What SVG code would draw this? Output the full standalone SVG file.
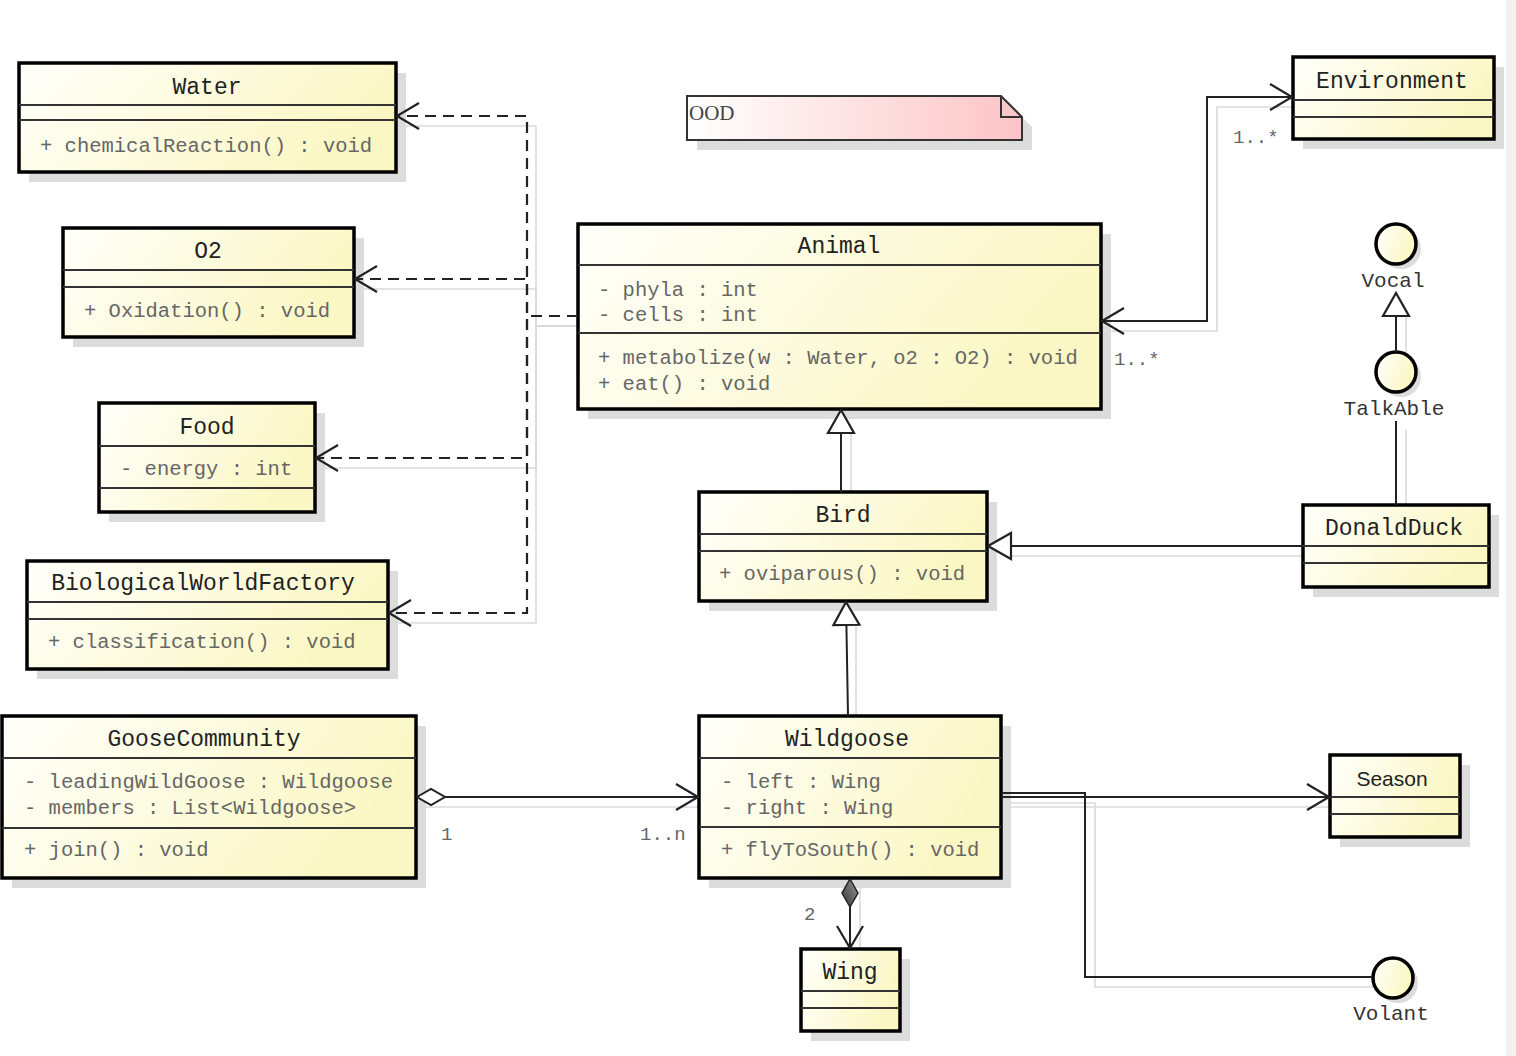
<svg xmlns="http://www.w3.org/2000/svg" width="1516" height="1056" viewBox="0 0 1516 1056">
<defs>
<linearGradient id="cls" x1="0" y1="0" x2="1" y2="0.3">
<stop offset="0" stop-color="#fffffb"/><stop offset="1" stop-color="#fbf7c4"/>
</linearGradient>
<linearGradient id="note" x1="0" y1="0" x2="1" y2="0">
<stop offset="0" stop-color="#ffffff"/><stop offset="1" stop-color="#fdc4c6"/>
</linearGradient>
<linearGradient id="dia" x1="0" y1="0" x2="1" y2="1">
<stop offset="0" stop-color="#999"/><stop offset="1" stop-color="#333"/>
</linearGradient>
<marker id="open" viewBox="-26 -15 30 30" refX="0" refY="0" markerWidth="30" markerHeight="30" markerUnits="userSpaceOnUse" orient="auto-start-reverse" overflow="visible">
<path d="M-22,-13 L0,0 L-22,13" fill="none" stroke="#222" stroke-width="2.2"/>
</marker>
<marker id="tri" viewBox="-26 -15 30 30" refX="0" refY="0" markerWidth="30" markerHeight="30" markerUnits="userSpaceOnUse" orient="auto" overflow="visible">
<path d="M0,0 L-23,-13 L-23,13 Z" fill="#fff" stroke="#222" stroke-width="2.2"/>
</marker>
<marker id="hdia" viewBox="-2 -10 32 20" refX="0" refY="0" markerWidth="32" markerHeight="20" markerUnits="userSpaceOnUse" orient="auto" overflow="visible">
<path d="M0,0 L14,-8 L28,0 L14,8 Z" fill="#fff" stroke="#222" stroke-width="2"/>
</marker>
<marker id="fdia" viewBox="-2 -10 32 20" refX="0" refY="0" markerWidth="32" markerHeight="20" markerUnits="userSpaceOnUse" orient="auto" overflow="visible">
<path d="M0,0 L14,-8 L28,0 L14,8 Z" fill="url(#dia)" stroke="#222" stroke-width="1.5"/>
</marker>
</defs>
<style>
.box{fill:url(#cls);stroke:#000;stroke-width:3.5}
.sh{fill:#dcdcdc}
.sep{stroke:#333;stroke-width:2}
.t{font-family:"Liberation Mono","DejaVu Sans Mono",monospace;font-size:23px;fill:#222;text-anchor:middle}
.m{font-family:"Liberation Mono","DejaVu Sans Mono",monospace;font-size:20.5px;fill:#666}
.lbl{font-family:"Liberation Mono","DejaVu Sans Mono",monospace;font-size:21px;fill:#333;text-anchor:middle}
.mult{font-family:"Liberation Mono","DejaVu Sans Mono",monospace;font-size:19px;fill:#666}
.c{fill:none;stroke:#222;stroke-width:2}
.d{fill:none;stroke:#222;stroke-width:2.2;stroke-dasharray:11 7}
.cs{fill:none;stroke:#dadada;stroke-width:1.6}
.iface{fill:url(#cls);stroke:#000;stroke-width:3.5}
</style>
<rect x="1506" y="0" width="10" height="1056" fill="#f1f1f1"/>

<g id="connector-shadows">
<path class="cs" d="M588,326 H536 V126 H406"/>
<path class="cs" d="M588,326 H536 V289 H364"/>
<path class="cs" d="M588,326 H536 V468 H325"/>
<path class="cs" d="M588,326 H536 V623 H398"/>
<path class="cs" d="M1111,331 H1217 V107 H1303"/>
<path class="cs" d="M851,492 V433"/>
<path class="cs" d="M1313,556 H1012"/>
<path class="cs" d="M856,716 V625"/>
<path class="cs" d="M1406,361 V316"/>
<path class="cs" d="M1406,505 V430"/>
<path class="cs" d="M426,807 H709"/>
<path class="cs" d="M860,888 V959"/>
<path class="cs" d="M1011,807 H1340"/>
<path class="cs" d="M1011,803 H1095 V987 H1383"/>
</g>

<g id="Water">
<rect class="sh" x="29" y="73" width="377" height="109"/>
<rect class="box" x="19" y="63" width="377" height="109"/>
<line class="sep" x1="19" y1="105" x2="396" y2="105"/>
<line class="sep" x1="19" y1="120" x2="396" y2="120"/>
<text class="t" x="207" y="94">Water</text>
<text class="m" x="40" y="152">+ chemicalReaction() : void</text>
</g>

<g id="O2">
<rect class="sh" x="73" y="238" width="291" height="109"/>
<rect class="box" x="63" y="228" width="291" height="109"/>
<line class="sep" x1="63" y1="270" x2="354" y2="270"/>
<line class="sep" x1="63" y1="287" x2="354" y2="287"/>
<text class="t" x="208" y="258">O2</text>
<text class="m" x="84" y="317">+ Oxidation() : void</text>
</g>

<g id="Food">
<rect class="sh" x="109" y="413" width="216" height="109"/>
<rect class="box" x="99" y="403" width="216" height="109"/>
<line class="sep" x1="99" y1="446" x2="315" y2="446"/>
<line class="sep" x1="99" y1="488" x2="315" y2="488"/>
<text class="t" x="207" y="434">Food</text>
<text class="m" x="120" y="475">- energy : int</text>
</g>

<g id="BiologicalWorldFactory">
<rect class="sh" x="37" y="571" width="361" height="108"/>
<rect class="box" x="27" y="561" width="361" height="108"/>
<line class="sep" x1="27" y1="602" x2="388" y2="602"/>
<line class="sep" x1="27" y1="619" x2="388" y2="619"/>
<text class="t" x="203" y="590">BiologicalWorldFactory</text>
<text class="m" x="48" y="648">+ classification() : void</text>
</g>

<g id="OOD">
<path class="sh" d="M697,106 H1011 L1032,127 V150 H697 Z"/>
<path d="M687,96 H1001 L1022,117 V140 H687 Z" fill="url(#note)" stroke="#333" stroke-width="2"/>
<path d="M1001,96 V117 H1022" fill="none" stroke="#333" stroke-width="2"/>
<text x="689" y="120" font-family="Liberation Serif, serif" font-size="21" fill="#444">OOD</text>
</g>

<g id="Animal">
<rect class="sh" x="588" y="234" width="523" height="185"/>
<rect class="box" x="578" y="224" width="523" height="185"/>
<line class="sep" x1="578" y1="265" x2="1101" y2="265"/>
<line class="sep" x1="578" y1="333" x2="1101" y2="333"/>
<text class="t" x="839" y="253">Animal</text>
<text class="m" x="598" y="296">- phyla : int</text>
<text class="m" x="598" y="321">- cells : int</text>
<text class="m" x="598" y="364">+ metabolize(w : Water, o2 : O2) : void</text>
<text class="m" x="598" y="390">+ eat() : void</text>
</g>

<g id="Environment">
<rect class="sh" x="1303" y="67" width="201" height="82"/>
<rect class="box" x="1293" y="57" width="201" height="82"/>
<line class="sep" x1="1293" y1="100" x2="1494" y2="100"/>
<line class="sep" x1="1293" y1="117" x2="1494" y2="117"/>
<text class="t" x="1392" y="88">Environment</text>
</g>

<g id="Vocal">
<circle cx="1401" cy="249" r="20" fill="#dcdcdc"/>
<circle class="iface" cx="1396" cy="244" r="20"/>
<text class="lbl" x="1393" y="287">Vocal</text>
</g>

<g id="TalkAble">
<circle cx="1401" cy="377" r="20" fill="#dcdcdc"/>
<circle class="iface" cx="1396" cy="372" r="20"/>
<text class="lbl" x="1394" y="415">TalkAble</text>
</g>

<g id="Bird">
<rect class="sh" x="709" y="502" width="288" height="109"/>
<rect class="box" x="699" y="492" width="288" height="109"/>
<line class="sep" x1="699" y1="534" x2="987" y2="534"/>
<line class="sep" x1="699" y1="551" x2="987" y2="551"/>
<text class="t" x="843" y="522">Bird</text>
<text class="m" x="719" y="580">+ oviparous() : void</text>
</g>

<g id="DonaldDuck">
<rect class="sh" x="1313" y="515" width="186" height="82"/>
<rect class="box" x="1303" y="505" width="186" height="82"/>
<line class="sep" x1="1303" y1="546" x2="1489" y2="546"/>
<line class="sep" x1="1303" y1="563" x2="1489" y2="563"/>
<text class="t" x="1394" y="535">DonaldDuck</text>
</g>

<g id="GooseCommunity">
<rect class="sh" x="12" y="726" width="414" height="162"/>
<rect class="box" x="2" y="716" width="414" height="162"/>
<line class="sep" x1="2" y1="758" x2="416" y2="758"/>
<line class="sep" x1="2" y1="828" x2="416" y2="828"/>
<text class="t" x="204" y="746">GooseCommunity</text>
<text class="m" x="24" y="788">- leadingWildGoose : Wildgoose</text>
<text class="m" x="24" y="814">- members : List&lt;Wildgoose&gt;</text>
<text class="m" x="24" y="856">+ join() : void</text>
</g>

<g id="Wildgoose">
<rect class="sh" x="709" y="726" width="302" height="162"/>
<rect class="box" x="699" y="716" width="302" height="162"/>
<line class="sep" x1="699" y1="758" x2="1001" y2="758"/>
<line class="sep" x1="699" y1="827" x2="1001" y2="827"/>
<text class="t" x="847" y="746">Wildgoose</text>
<text class="m" x="721" y="788">- left : Wing</text>
<text class="m" x="721" y="814">- right : Wing</text>
<text class="m" x="721" y="856">+ flyToSouth() : void</text>
</g>

<g id="Wing">
<rect class="sh" x="811" y="959" width="99" height="82"/>
<rect class="box" x="801" y="949" width="99" height="82"/>
<line class="sep" x1="801" y1="991" x2="900" y2="991"/>
<line class="sep" x1="801" y1="1008" x2="900" y2="1008"/>
<text class="t" x="850" y="979">Wing</text>
</g>

<g id="Season">
<rect class="sh" x="1340" y="765" width="130" height="82"/>
<rect class="box" x="1330" y="755" width="130" height="82"/>
<line class="sep" x1="1330" y1="797" x2="1460" y2="797"/>
<line class="sep" x1="1330" y1="814" x2="1460" y2="814"/>
<text x="1392" y="786" font-family="Liberation Sans, Arial, sans-serif" font-size="21" fill="#222" text-anchor="middle">Season</text>
</g>

<g id="Volant">
<circle cx="1398" cy="983" r="20" fill="#dcdcdc"/>
<circle class="iface" cx="1393" cy="978" r="20"/>
<text class="lbl" x="1391" y="1020">Volant</text>
</g>

<g id="connectors">
<path class="d" d="M578,316 H527 V116 H397" marker-end="url(#open)"/>
<path class="d" d="M578,316 H527 V279 H355" marker-end="url(#open)"/>
<path class="d" d="M578,316 H527 V458 H316" marker-end="url(#open)"/>
<path class="d" d="M578,316 H527 V613 H389" marker-end="url(#open)"/>
<path class="c" d="M1102,321 H1207 V97 H1292" marker-start="url(#open)" marker-end="url(#open)"/>
<path class="c" d="M841,492 V410" marker-end="url(#tri)"/>
<path class="c" d="M1303,546 H988" marker-end="url(#tri)"/>
<path class="c" d="M848,716 L846,602" marker-end="url(#tri)"/>
<path class="c" d="M1396,352 V293" marker-end="url(#tri)"/>
<path class="c" d="M1396,421 V505"/>
<path class="c" d="M417,797 H698" marker-start="url(#hdia)" marker-end="url(#open)"/>
<path class="c" d="M850,879 V948" marker-start="url(#fdia)" marker-end="url(#open)"/>
<path class="c" d="M1001,797 H1329" marker-end="url(#open)"/>
<path class="c" d="M1001,793 H1085 V977 H1373"/>
<text class="mult" x="1233" y="143">1..*</text>
<text class="mult" x="1114" y="365">1..*</text>
<text class="mult" x="441" y="840">1</text>
<text class="mult" x="640" y="840">1..n</text>
<text class="mult" x="804" y="920">2</text>
</g>
</svg>
